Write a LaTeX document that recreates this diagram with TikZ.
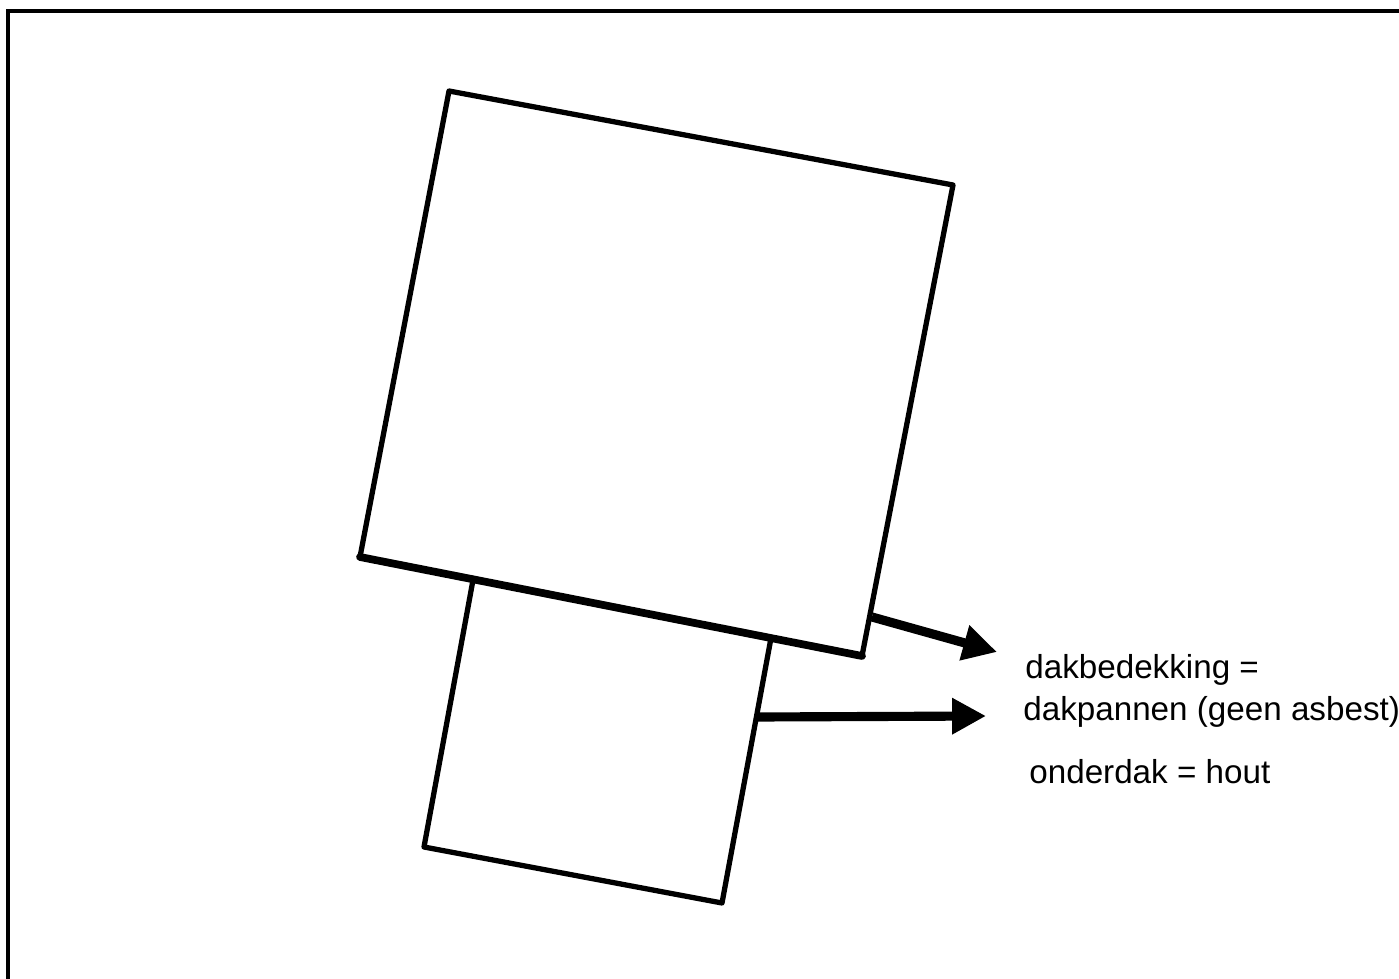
\documentclass[tikz,border=0pt]{standalone}
\usepackage{fontspec}
\setmainfont{Liberation Sans}
\usetikzlibrary{arrows.meta}
\tikzset{
  thinwall/.style={line width=3pt,line join=round,line cap=round},
  thickwall/.style={line width=4.4pt,line cap=round},
  pointer/.style={line width=5.2pt,-{Triangle[length=19.3pt,width=19.5pt]}},
  label/.style={inner sep=0pt,anchor=base west,font=\fontsize{18.9}{22}\selectfont}
}
\begin{document}
\begin{tikzpicture}[x=0.02cm,y=-0.02cm]
      \useasboundingbox (0,0) rectangle (1399,979);
      \fill[white] (0,0) rectangle (1399,979);
      \coordinate (frametop) at (1399,11);
      \coordinate (framecorner) at (8,11);
      \coordinate (framebottom) at (8,979);
      \draw[line width=2.2pt] (frametop) -- (framecorner) -- (framebottom);
      \coordinate (house0) at (449,91);
      \coordinate (house1) at (953,185);
      \coordinate (house2) at (862,656);
      \coordinate (house3) at (360,557);
      \coordinate (annex0) at (473,580);
      \coordinate (annex1) at (424,847);
      \coordinate (annex2) at (722,903);
      \coordinate (annex3) at (771,638);
      \draw[thinwall] (house3) -- (house0) -- (house1) -- (house2);
      \draw[thinwall] (annex0) -- (annex1) -- (annex2) -- (annex3);
      \draw[thickwall] (house3) -- (house2);
      \node[label] (cover1) at (1025,678) {dakbedekking =};
      \node[label] (cover2) at (1023,720) {dakpannen (geen asbest)};
      \node[label] (under) at (1029,783) {onderdak = hout};
      \coordinate (tip0) at (997,652);
      \coordinate (tail0) at (872,617);
      \coordinate (tip1) at (986,716);
      \coordinate (tail1) at (758,717);
      \draw[pointer] (tail0) to (tip0);
      \draw[pointer] (tail1) to (tip1);
    \end{tikzpicture}
\end{document}
